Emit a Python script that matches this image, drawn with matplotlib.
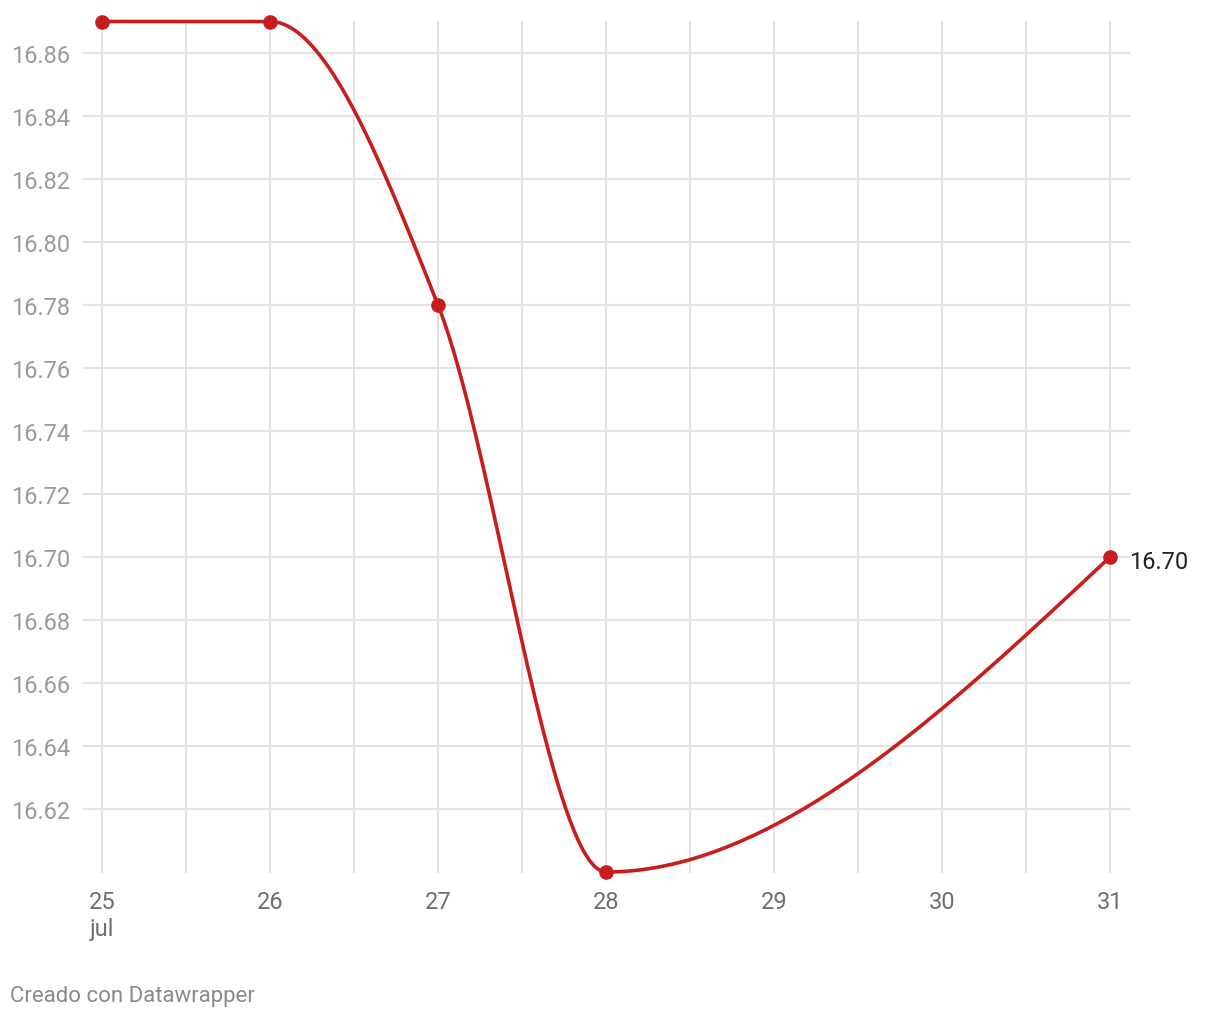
import numpy as np
import matplotlib
matplotlib.use("Agg")
import matplotlib.pyplot as plt

plt.rcParams['font.family'] = ['Roboto', 'DejaVu Sans']

days = [25, 26, 27, 28, 31]
values = [16.87, 16.87, 16.78, 16.60, 16.70]
x_ticks = [25, 26, 27, 28, 29, 30, 31]
y_ticks = [16.62, 16.64, 16.66, 16.68, 16.70, 16.72, 16.74, 16.76, 16.78, 16.80, 16.82, 16.84, 16.86]
month_label = "jul"
footer = "Creado con Datawrapper"

RED = "#c71e1d"


def monotone_slopes(x, y):
    # same rule as d3.curveMonotoneX
    x = np.asarray(x, float)
    y = np.asarray(y, float)
    n = len(x)
    h = np.diff(x)
    s = np.diff(y) / h
    t = np.zeros(n)
    for i in range(1, n - 1):
        h0, h1 = h[i - 1], h[i]
        s0, s1 = s[i - 1], s[i]
        p = (s0 * h1 + s1 * h0) / (h0 + h1)
        t[i] = (np.sign(s0) + np.sign(s1)) * min(abs(s0), abs(s1), 0.5 * abs(p))
    t[0] = (3 * s[0] - t[1]) / 2
    t[-1] = (3 * s[-1] - t[-2]) / 2
    return t


def monotone_curve(x, y, per_seg=80):
    t = monotone_slopes(x, y)
    xs, ys = [], []
    for i in range(len(x) - 1):
        h = x[i + 1] - x[i]
        u = np.linspace(0, 1, per_seg)
        h00 = 2 * u**3 - 3 * u**2 + 1
        h10 = u**3 - 2 * u**2 + u
        h01 = -2 * u**3 + 3 * u**2
        h11 = u**3 - u**2
        xs.append(x[i] + u * h)
        ys.append(h00 * y[i] + h10 * h * t[i] + h01 * y[i + 1] + h11 * h * t[i + 1])
    return np.concatenate(xs), np.concatenate(ys)


fig = plt.figure(figsize=(12.2, 10.2), dpi=100)
ax = fig.add_axes([83 / 1220, 1 - 873 / 1020, (1130 - 83) / 1220, (873 - 22.5) / 1020])

xmin = 25 - 19 / 168
xmax = 31 + 20 / 168
ax.set_xlim(xmin, xmax)
ax.set_ylim(16.60, 16.87)

grid_c = "#e3e3e3"
for gx in np.arange(x_ticks[0], x_ticks[-1] + 0.01, 0.5):
    ax.plot([gx, gx], [16.60, 16.87], color=grid_c, lw=1.5, zorder=1, clip_on=False)
for gy in y_ticks:
    ax.plot([xmin, xmax], [gy, gy], color=grid_c, lw=1.5, zorder=1)

cx, cy = monotone_curve(days, values)
ax.plot(cx, cy, color=RED, lw=2.6, zorder=3, clip_on=False, solid_capstyle='round')
ax.plot(days, values, 'o', color=RED, ms=9.5, zorder=4, clip_on=False)

ax.annotate(f"{values[-1]:.2f}", (days[-1], values[-1]), xytext=(14, -3),
            textcoords='offset points', ha='left', va='center',
            fontsize=17, color="#222222")

for s in ax.spines.values():
    s.set_visible(False)

ax.set_yticks(y_ticks)
ax.set_yticklabels([f"{v:.2f}" for v in y_ticks])
ax.set_xticks(x_ticks)
ax.set_xticklabels([str(d) for d in x_ticks])
ax.tick_params(axis='y', length=0, pad=9, labelsize=17, labelcolor="#9a9a9a")
ax.tick_params(axis='x', length=0, pad=13, labelsize=17, labelcolor="#6f6f6f")

ax.annotate(month_label, (x_ticks[0], 16.60), xytext=(0, -41), textcoords='offset points',
            ha='center', va='center', fontsize=17, color="#6f6f6f")

fig.text(10 / 1220, 1 - 997 / 1020, footer, ha='left', va='center',
         fontsize=16, color="#8a8a8a")

fig.savefig("out.png", dpi=100, facecolor="white")
